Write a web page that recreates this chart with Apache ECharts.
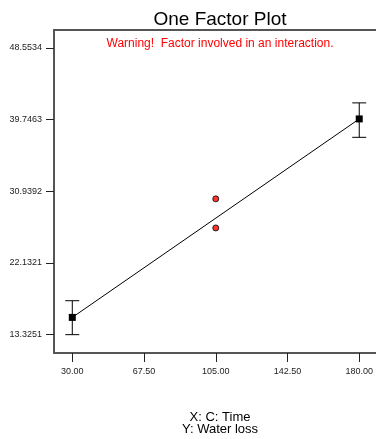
<!DOCTYPE html>
<html>
<head>
<meta charset="utf-8">
<script src="https://cdn.jsdelivr.net/npm/echarts@6/dist/echarts.min.js"></script>
<style>
	html, body { margin: 0; padding: 0; background: #fff; }
	#chart { width: 376px; height: 439px; }
</style>
</head>
<body>
<div id="chart"></div>
<script>
// 刻度
const xTicks = [30, 67.5, 105, 142.5, 180]
const yTicks = [13.3251, 22.1321, 30.9392, 39.7463, 48.5534]
// 因子水平的均值和误差范围
const factorX = [30, 180]
const factorMean = [15.45, 39.83]
const factorLow = [13.33, 37.57]
const factorHigh = [17.5, 41.8]
// 实测点
const designX = [105, 105]
const designY = [30.01, 26.44]

const chart = echarts.init(document.getElementById('chart'))

const option = {
	animation: false,
	title: [
		{
			text: 'One Factor Plot',
			left: 215,
			top: 5,
			textAlign: 'center',
			textStyle: { fontFamily: 'Liberation Sans', fontSize: 19, fontWeight: 'normal', color: '#000' },
		},
		{
			text: 'Warning!  Factor involved in an interaction.',
			left: 215,
			top: 33,
			textAlign: 'center',
			textStyle: { fontFamily: 'Liberation Sans', fontSize: 12, fontWeight: 'normal', color: '#ff0000' },
		},
		{
			text: 'X: C: Time\nY: Water loss',
			left: 215,
			top: 406,
			textAlign: 'center',
			textStyle: { fontFamily: 'Liberation Sans', fontSize: 13, fontWeight: 'normal', color: '#000', lineHeight: 12 },
		},
	],
	grid: { left: 54, top: 30, right: 0, bottom: 86 },
	xAxis: [
		{
			type: 'value',
			min: 20.44,
			max: 188.74,
			splitLine: { show: false },
			axisLine: { show: true, lineStyle: { color: '#555', width: 2 } },
			axisTick: { show: true, customValues: xTicks, length: 9, lineStyle: { color: '#222', width: 1 } },
			axisLabel: {
				customValues: xTicks,
				formatter: v => v.toFixed(2),
				margin: 14,
				fontFamily: 'Liberation Sans',
				fontSize: 9,
				color: '#222',
			},
		},
		{
			type: 'value',
			position: 'top',
			min: 20.44,
			max: 188.74,
			splitLine: { show: false },
			axisLine: { show: true, lineStyle: { color: '#555', width: 2 } },
			axisTick: { show: false },
			axisLabel: { show: false },
		},
	],
	yAxis: {
		type: 'value',
		min: 11.077,
		max: 50.753,
		splitLine: { show: false },
		axisLine: { show: true, lineStyle: { color: '#555', width: 2 } },
		axisTick: { show: true, customValues: yTicks, length: 8, lineStyle: { color: '#222', width: 1 } },
		axisLabel: {
			customValues: yTicks,
			formatter: v => v.toFixed(4),
			margin: 12,
			fontFamily: 'Liberation Sans',
			fontSize: 9,
			color: '#222',
		},
	},
	series: [
		{
			// 误差棒
			type: 'custom',
			renderItem: (params, api) => {
				const x = api.value(0)
				const lo = api.coord([x, api.value(1)])
				const hi = api.coord([x, api.value(2)])
				const w = 7
				const style = { stroke: '#000', lineWidth: 1 }
				return {
					type: 'group',
					children: [
						{ type: 'line', shape: { x1: lo[0], y1: lo[1], x2: hi[0], y2: hi[1] }, style },
						{ type: 'line', shape: { x1: lo[0] - w, y1: lo[1], x2: lo[0] + w, y2: lo[1] }, style },
						{ type: 'line', shape: { x1: hi[0] - w, y1: hi[1], x2: hi[0] + w, y2: hi[1] }, style },
					],
				}
			},
			data: factorX.map((x, i) => [x, factorLow[i], factorHigh[i]]),
			z: 2,
		},
		{
			type: 'line',
			data: factorX.map((x, i) => [x, factorMean[i]]),
			symbol: 'rect',
			symbolSize: 7,
			itemStyle: { color: '#000' },
			lineStyle: { color: '#000', width: 1 },
			z: 3,
		},
		{
			type: 'scatter',
			data: designX.map((x, i) => [x, designY[i]]),
			symbol: 'circle',
			symbolSize: 6,
			itemStyle: { color: '#ff0000', borderColor: '#000', borderWidth: 1 },
			z: 4,
		},
	],
}
chart.setOption(option)
</script>
</body>
</html>
